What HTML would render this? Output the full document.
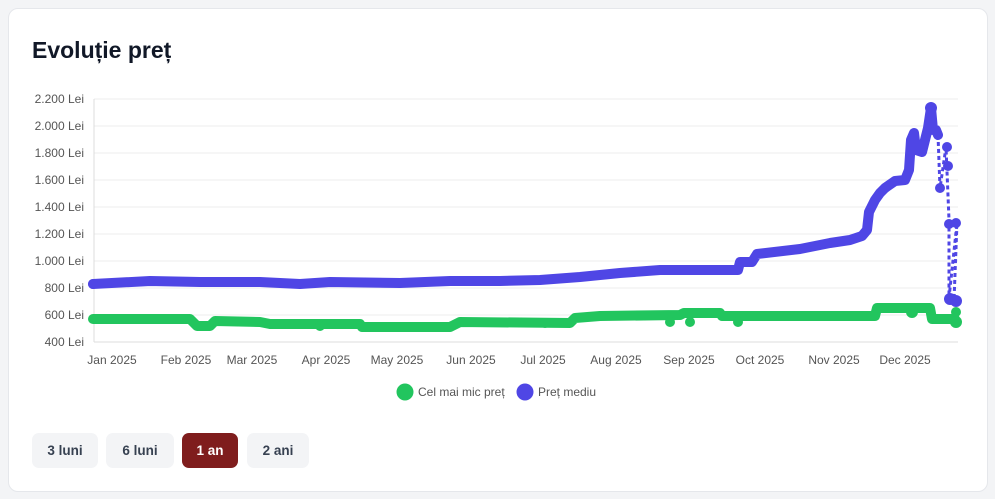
<!DOCTYPE html>
<html><head><meta charset="utf-8"><style>
body{margin:0;background:#f3f4f6;width:995px;height:499px;overflow:hidden;font-family:"Liberation Sans",Arial,sans-serif}
.card{position:absolute;left:8px;top:8px;width:980px;height:484px;background:#fff;border:1px solid #e5e7eb;border-radius:10px;box-sizing:border-box}
h1{position:absolute;left:32px;top:37px;margin:0;font-size:23px;font-weight:700;color:#111827}
.btn{position:absolute;top:433px;height:35px;line-height:35px;text-align:center;border-radius:7px;background:#f3f4f6;color:#374151;font-size:13.5px;font-weight:700}
</style></head><body>
<div class="card"></div>
<h1>Evoluție preț</h1>
<svg width="995" height="499" style="position:absolute;left:0;top:0" font-family="Liberation Sans, Arial, sans-serif">
<g stroke="#ececec" stroke-width="1">
<line x1="94" x2="958" y1="99" y2="99"/><line x1="94" x2="958" y1="126" y2="126"/><line x1="94" x2="958" y1="153" y2="153"/><line x1="94" x2="958" y1="180" y2="180"/><line x1="94" x2="958" y1="207" y2="207"/><line x1="94" x2="958" y1="234" y2="234"/><line x1="94" x2="958" y1="261" y2="261"/><line x1="94" x2="958" y1="288" y2="288"/><line x1="94" x2="958" y1="315" y2="315"/>
</g>
<line x1="94" x2="958" y1="342" y2="342" stroke="#ddd"/>
<line x1="94" x2="94" y1="99" y2="342" stroke="#ddd"/>
<g font-size="12" fill="#555" text-anchor="end">
<text x="84" y="103">2.200 Lei</text><text x="84" y="130">2.000 Lei</text><text x="84" y="157">1.800 Lei</text><text x="84" y="184">1.600 Lei</text><text x="84" y="211">1.400 Lei</text><text x="84" y="238">1.200 Lei</text><text x="84" y="265">1.000 Lei</text><text x="84" y="292">800 Lei</text><text x="84" y="319">600 Lei</text><text x="84" y="346">400 Lei</text>
</g>
<g font-size="12" fill="#555" text-anchor="middle">
<text x="112" y="364">Jan 2025</text><text x="186" y="364">Feb 2025</text><text x="252" y="364">Mar 2025</text><text x="326" y="364">Apr 2025</text><text x="397" y="364">May 2025</text><text x="471" y="364">Jun 2025</text><text x="543" y="364">Jul 2025</text><text x="616" y="364">Aug 2025</text><text x="689" y="364">Sep 2025</text><text x="760" y="364">Oct 2025</text><text x="834" y="364">Nov 2025</text><text x="905" y="364">Dec 2025</text>
</g>
<polyline fill="none" stroke="#22c55e" stroke-width="10" stroke-linejoin="round" stroke-linecap="round" points="93,319 190,319 197,326 210,326 215,321 260,322 270,324 360,324 362,327 450,327 460,322 570,323 575,318 600,316 680,315 684,313 720,313 722,316 875,316 877,308 930,308 932,319 955,319"/>
<g fill="#22c55e"><circle cx="912" cy="312" r="6"/><circle cx="956" cy="312" r="5"/><circle cx="956" cy="322" r="6"/><circle cx="738" cy="322" r="5"/><circle cx="690" cy="322" r="5"/><circle cx="670" cy="322" r="5"/><circle cx="320" cy="326" r="5"/><circle cx="545" cy="323" r="5"/></g>
<polyline fill="none" stroke="#4f46e5" stroke-width="10" stroke-linejoin="round" stroke-linecap="round" points="93,284 150,281 200,282 260,282 300,284 330,282 400,283 450,281 500,281 540,280 580,277 620,273 660,270 738,270 740,262 752,262 757,254 800,249 830,243 850,240 862,236 867,230 869,212 875,200 880,193 885,188 895,181 905,180 909,170 911,140 914,133 916,150 922,152 925,140 928,128 931,108 933,130 936,130 938,135"/>
<polyline fill="none" stroke="#4f46e5" stroke-width="3" stroke-dasharray="4,3" points="938,135 940,188 946,147 949,220 949,298 957,223 954,300"/>
<g fill="#4f46e5"><circle cx="940" cy="188" r="5"/><circle cx="947" cy="147" r="5"/><circle cx="948" cy="166" r="5"/><circle cx="949" cy="224" r="5"/><circle cx="950" cy="299" r="6"/><circle cx="956" cy="223" r="5"/><circle cx="956" cy="301" r="6"/><circle cx="931" cy="108" r="6"/><circle cx="93" cy="284" r="5"/></g>
<circle cx="405" cy="392" r="8.5" fill="#22c55e"/><text x="418" y="396" font-size="12" fill="#555">Cel mai mic preț</text>
<circle cx="525" cy="392" r="8.5" fill="#4f46e5"/><text x="538" y="396" font-size="12" fill="#555">Preț mediu</text>
</svg>
<div class="btn" style="left:32px;width:66px">3 luni</div>
<div class="btn" style="left:106px;width:68px">6 luni</div>
<div class="btn" style="left:182px;width:56px;background:#7f1d1d;color:#fff">1 an</div>
<div class="btn" style="left:247px;width:62px">2 ani</div>
</body></html>
